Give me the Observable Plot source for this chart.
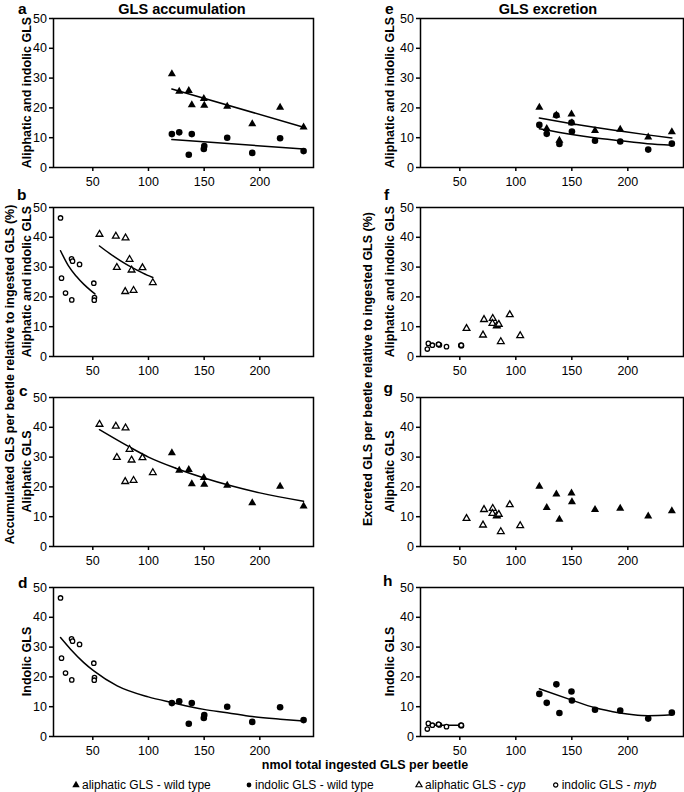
<!DOCTYPE html>
<html><head><meta charset="utf-8">
<script src="https://cdn.jsdelivr.net/npm/d3@7"></script>
<script src="https://cdn.jsdelivr.net/npm/@observablehq/plot@0.6"></script>
<style>
body{margin:0;background:#fff;}
#wrap{position:relative;width:684px;height:792px;overflow:hidden;background:#fff;}
#wrap svg{position:absolute;}
</style></head><body><div id="wrap"></div>
<script>
// ---- data (nmol total ingested GLS per beetle; % relative to ingested) ----
// wild type beetles
const wtIngested = [121.0,127.6,136.2,138.9,149.7,150.1,170.7,193.2,218.2,239.3];
const wtAliAcc   = [31.4,25.5,25.8,21.0,23.1,20.8,20.5,14.6,20.2,13.5];
const wtIndAcc   = [11.2,11.8,4.3,11.2,6.2,7.2,10.0,4.9,9.8,5.5];
const wtAliExc   = [20.2,13.0,17.6,9.1,17.9,15.0,12.4,12.8,10.2,11.9];
const wtIndExc   = [14.3,11.3,17.5,7.9,15.1,12.1,9.0,8.7,6.0,8.0];
// cyp beetles (aliphatic GLS)
const cypIngested = [56.0,70.7,71.6,79.4,79.1,83.0,84.8,86.6,94.6,103.9];
const cypAliAcc   = [41.0,40.4,29.9,39.8,21.8,32.6,29.0,22.2,29.8,24.8];
const cypAliExc   = [9.4,7.2,12.4,12.8,11.1,10.3,10.8,5.0,14.0,7.0];
// myb beetles (indolic GLS)
const mybIngested = [21.0,21.9,25.5,30.9,31.8,31.1,38.1,50.9,51.5,51.3];
const mybIndAcc   = [46.5,26.3,21.3,32.8,32.0,19.0,30.9,24.6,19.8,18.9];
const mybIndExc   = [2.5,4.4,3.8,4.1,3.9,4.1,3.3,3.7,3.6,3.8];
// fitted curves: [x, y]
const fitBmyb = [[21,35.5],[28,30.5],[35,27.0],[42,24.2],[48,22.2],[51.9,21.0]];
const fitBcyp = [[56,37.1],[65,34.6],[75,32.1],[85,29.9],[95,28.0],[103.9,26.5]];
const fitC    = [[56,39.2],[80,34.0],[100,30.0],[125,26.2],[150,23.0],[175,20.3],[200,18.0],[239.3,15.2]];
const fitD    = [[21,33.2],[30,29.3],[41.9,24.8],[50.9,22.0],[71.9,17.0],[99.8,13.3],[121,11.4],[149.7,9.1],[170.7,8.0],[193.2,6.7],[218.3,5.8],[239.3,5.2]];
const fitEali = [[121,16.6],[150,14.7],[170,13.5],[193,12.25],[217.5,10.95],[239.3,9.9]];
const fitEind = [[121,13.0],[150,11.1],[170,10.0],[193,9.0],[217.5,8.0],[239.3,7.5]];
const fitHwt  = [[121,16.0],[150,12.2],[170,9.7],[193,7.9],[205,7.3],[218,7.0],[239.3,7.3]];
const fitHmyb = [[21,3.8],[51.5,3.8]];
const xTicks = [50,100,150,200];
const yTicks = [0,10,20,30,40,50];

const wt  = wtIngested.map((x,i)=>({x, aliAcc:wtAliAcc[i], indAcc:wtIndAcc[i], aliExc:wtAliExc[i], indExc:wtIndExc[i]}));
const cyp = cypIngested.map((x,i)=>({x, aliAcc:cypAliAcc[i], aliExc:cypAliExc[i]}));
const myb = mybIngested.map((x,i)=>({x, indAcc:mybIndAcc[i], indExc:mybIndExc[i]}));

const FONT = "'Liberation Sans', Arial, Helvetica, sans-serif";
const wrap = document.getElementById("wrap");

const filledTri = (data,y)=>Plot.dot(data,{x:"x",y,symbol:"triangle",r:3,fill:"black",stroke:"none"});
const filledCirc = (data,y)=>Plot.dot(data,{x:"x",y,r:3.3,fill:"black",stroke:"none"});
const openTri = (data,y)=>Plot.dot(data,{x:"x",y,symbol:"triangle",r:2.5,fill:"white",stroke:"black",strokeWidth:1.3});
const openCirc = (data,y)=>Plot.dot(data,{x:"x",y,r:2.2,fill:"white",stroke:"black",strokeWidth:1.3});
const fit = (pts)=>Plot.line(pts,{x:d=>d[0],y:d=>d[1],curve:"monotone-x",stroke:"black",strokeWidth:1.5});

const COLS = {
  L:{left:0,width:320,ml:53,mr:7,domain:[14.7,248.2]},
  R:{left:340,width:344,ml:80,mr:1,domain:[14.9,249.7]}
};
const rowTop = [8,197,387,577];

function panel(col,row,marks){
  const c = COLS[col];
  const svg = Plot.plot({
    width:c.width,height:190,marginLeft:c.ml,marginRight:c.mr,marginTop:10,marginBottom:31,
    x:{domain:c.domain},
    y:{domain:[0,50]},
    style:{fontFamily:FONT,fontSize:"12.5px",color:"black",background:"transparent",overflow:"visible"},
    marks:[
      Plot.axisX({ticks:xTicks,tickSize:4,tickPadding:6,strokeWidth:1.5,label:null,fontSize:12.5}),
      Plot.axisY({ticks:yTicks,tickSize:4,tickPadding:2.5,strokeWidth:1.5,label:null,fontSize:12.5}),
      ...marks,
      Plot.frame({stroke:"black",strokeWidth:1.5})
    ]
  });
  svg.style.position="absolute";
  svg.style.left=c.left+"px";
  svg.style.top=rowTop[row]+"px";
  wrap.appendChild(svg);
}

// a
panel("L",0,[
  Plot.linearRegressionY(wt,{x:"x",y:"aliAcc",ci:0,stroke:"black",strokeWidth:1.5}),
  Plot.linearRegressionY(wt,{x:"x",y:"indAcc",ci:0,stroke:"black",strokeWidth:1.5}),
  filledTri(wt,"aliAcc"), filledCirc(wt,"indAcc")
]);
// b
panel("L",1,[fit(fitBmyb),fit(fitBcyp),openTri(cyp,"aliAcc"),openCirc(myb,"indAcc")]);
// c
panel("L",2,[fit(fitC),openTri(cyp,"aliAcc"),filledTri(wt,"aliAcc")]);
// d
panel("L",3,[fit(fitD),openCirc(myb,"indAcc"),filledCirc(wt,"indAcc")]);
// e
panel("R",0,[fit(fitEali),fit(fitEind),filledTri(wt,"aliExc"),filledCirc(wt,"indExc")]);
// f
panel("R",1,[openTri(cyp,"aliExc"),openCirc(myb,"indExc")]);
// g
panel("R",2,[openTri(cyp,"aliExc"),filledTri(wt,"aliExc")]);
// h
panel("R",3,[fit(fitHwt),fit(fitHmyb),openCirc(myb,"indExc"),filledCirc(wt,"indExc")]);

// ---- overlay texts ----
const ov = d3.select(wrap).append("svg").attr("width",684).attr("height",792)
  .style("left","0px").style("top","0px").style("pointer-events","none")
  .attr("font-family",FONT).attr("fill","black");

function txt(x,y,s,opt={}){
  const t = ov.append("text").attr("x",x).attr("y",y)
    .attr("font-size",opt.size||12.5).attr("font-weight",opt.bold?"bold":"normal")
    .attr("text-anchor",opt.anchor||"start").text(s);
  return t;
}
function vtxt(x,y,s,size){
  ov.append("text").attr("transform",`translate(${x},${y}) rotate(-90)`)
    .attr("font-size",size||12.5).attr("font-weight","bold").attr("text-anchor","middle").text(s);
}
txt(182,13.5,"GLS accumulation",{size:14.5,bold:true,anchor:"middle"});
txt(548,13.5,"GLS excretion",{size:14.5,bold:true,anchor:"middle"});

const letters = [["a",18,13.5],["b",17,200],["c",19,395.5],["d",18,587.5],
                 ["e",385,13.5],["f",384,200],["g",383.5,393],["h",383,586]];
letters.forEach(([s,x,y])=>txt(x,y,s,{size:15.5,bold:true}));

const plotMid = [92.5,281.5,471.5,661.5];
const panelLabels = ["Aliphatic and indolic GLS","Aliphatic and indolic GLS","Aliphatic GLS","Indolic GLS"];
panelLabels.forEach((s,i)=>{ vtxt(30.5,plotMid[i],s); vtxt(394,plotMid[i],s); });

vtxt(14,374.5,"Accumulated GLS per beetle relative to ingested GLS (%)");
vtxt(372,369,"Excreted GLS per beetle relative to ingested GLS (%)");

txt(365,768.5,"nmol total ingested GLS per beetle",{bold:true,anchor:"middle"});

// legend
const ly = 789, sy = 785;
function sym(type,x,size,filled){
  ov.append("path").attr("transform",`translate(${x},${sy})`)
    .attr("d",d3.symbol().type(type).size(size)())
    .attr("fill",filled?"black":"white").attr("stroke","black").attr("stroke-width",filled?0:1.2);
}
sym(d3.symbolTriangle,76,24,true);
txt(82,ly,"aliphatic GLS - wild type",{size:12});
sym(d3.symbolCircle,249,18,true);
txt(255,ly,"indolic GLS - wild type",{size:12});
sym(d3.symbolTriangle,419,16,false);
const t3 = txt(425,ly,"aliphatic GLS - ",{size:12});
t3.append("tspan").attr("font-style","italic").text("cyp");
sym(d3.symbolCircle,555.7,14,false);
const t4 = txt(561.7,ly,"indolic GLS - ",{size:12});
t4.append("tspan").attr("font-style","italic").text("myb");
</script>
</body></html>
